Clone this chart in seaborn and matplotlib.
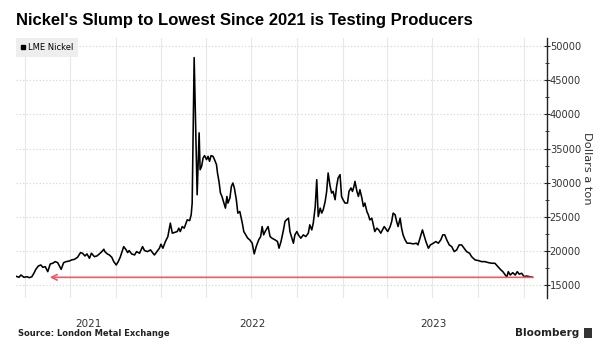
import matplotlib
matplotlib.use('Agg')
import matplotlib.pyplot as plt
import matplotlib.dates as mdates
from matplotlib.lines import Line2D
from matplotlib.ticker import MultipleLocator, FixedLocator, FixedFormatter, NullFormatter
import pandas as pd
import seaborn as sns

# LME nickel, dollars a ton
dates = [
    '2021-03-13', '2021-03-20', '2021-03-24', '2021-03-30', '2021-04-05', '2021-04-10', '2021-04-15',
    '2021-04-19', '2021-04-23', '2021-04-28', '2021-05-03', '2021-05-07', '2021-05-12', '2021-05-17',
    '2021-05-22', '2021-05-27', '2021-06-01', '2021-06-06', '2021-06-13', '2021-06-18', '2021-06-23',
    '2021-06-30', '2021-07-04', '2021-07-10', '2021-07-16', '2021-07-22', '2021-07-26', '2021-07-31',
    '2021-08-04', '2021-08-09', '2021-08-13', '2021-08-19', '2021-08-24', '2021-08-29', '2021-09-03',
    '2021-09-07', '2021-09-09', '2021-09-14', '2021-09-18', '2021-09-23', '2021-09-27', '2021-10-02',
    '2021-10-06', '2021-10-10', '2021-10-13', '2021-10-17', '2021-10-22', '2021-10-25', '2021-10-28',
    '2021-11-02', '2021-11-08', '2021-11-12', '2021-11-18', '2021-11-21', '2021-11-24', '2021-11-28',
    '2021-12-04', '2021-12-10', '2021-12-15', '2021-12-18', '2021-12-23', '2021-12-28', '2021-12-31',
    '2022-01-04', '2022-01-09', '2022-01-14', '2022-01-19', '2022-01-23', '2022-01-27', '2022-02-02',
    '2022-02-05', '2022-02-08', '2022-02-12', '2022-02-16', '2022-02-22', '2022-02-27', '2022-03-02',
    '2022-03-04', '2022-03-08', '2022-03-14', '2022-03-18', '2022-03-20', '2022-03-23', '2022-03-26',
    '2022-03-29', '2022-04-02', '2022-04-05', '2022-04-08', '2022-04-11', '2022-04-15', '2022-04-18',
    '2022-04-22', '2022-04-24', '2022-04-27', '2022-04-30', '2022-05-03', '2022-05-07', '2022-05-10',
    '2022-05-13', '2022-05-15', '2022-05-19', '2022-05-22', '2022-05-25', '2022-05-28', '2022-06-01',
    '2022-06-04', '2022-06-08', '2022-06-13', '2022-06-16', '2022-06-20', '2022-06-24', '2022-06-28',
    '2022-07-03', '2022-07-07', '2022-07-11', '2022-07-16', '2022-07-20', '2022-07-23', '2022-07-26',
    '2022-07-29', '2022-08-04', '2022-08-08', '2022-08-12', '2022-08-18', '2022-08-23', '2022-08-26',
    '2022-08-30', '2022-09-04', '2022-09-07', '2022-09-10', '2022-09-14', '2022-09-17', '2022-09-21',
    '2022-09-24', '2022-09-27', '2022-10-01', '2022-10-04', '2022-10-09', '2022-10-14', '2022-10-19',
    '2022-10-24', '2022-10-27', '2022-10-31', '2022-11-03', '2022-11-07', '2022-11-10', '2022-11-13',
    '2022-11-17', '2022-11-20', '2022-11-23', '2022-11-27', '2022-11-30', '2022-12-03', '2022-12-07',
    '2022-12-10', '2022-12-13', '2022-12-17', '2022-12-20', '2022-12-23', '2022-12-27', '2022-12-30',
    '2023-01-02', '2023-01-06', '2023-01-11', '2023-01-14', '2023-01-18', '2023-01-21', '2023-01-24',
    '2023-01-26', '2023-01-30', '2023-02-02', '2023-02-05', '2023-02-09', '2023-02-12', '2023-02-15',
    '2023-02-19', '2023-02-22', '2023-02-25', '2023-03-01', '2023-03-04', '2023-03-07', '2023-03-11',
    '2023-03-15', '2023-03-19', '2023-03-26', '2023-04-02', '2023-04-07', '2023-04-10', '2023-04-13',
    '2023-04-17', '2023-04-20', '2023-04-23', '2023-04-27', '2023-04-30', '2023-05-03', '2023-05-07',
    '2023-05-11', '2023-05-17', '2023-05-23', '2023-05-30', '2023-06-02', '2023-06-06', '2023-06-11',
    '2023-06-14', '2023-06-18', '2023-06-23', '2023-06-27', '2023-07-03', '2023-07-08', '2023-07-13',
    '2023-07-18', '2023-07-22', '2023-07-26', '2023-07-30', '2023-08-04', '2023-08-09', '2023-08-14',
    '2023-08-19', '2023-08-24', '2023-08-29', '2023-09-03', '2023-09-08', '2023-09-14', '2023-09-18',
    '2023-09-25', '2023-10-02', '2023-10-08', '2023-10-15', '2023-10-22', '2023-10-29', '2023-11-04',
    '2023-11-09', '2023-11-15', '2023-11-20', '2023-11-25', '2023-11-28', '2023-12-01', '2023-12-05',
    '2023-12-10', '2023-12-15', '2023-12-19', '2023-12-23', '2023-12-28', '2024-01-02', '2024-01-07',
    '2024-01-13', '2024-01-19',
]
prices = [
    16320, 16130, 16470, 16130, 16220, 16080, 16220,
    16720, 17300, 17790, 17940, 17600, 17690, 16960,
    18090, 18190, 18430, 18280, 17300, 18280, 18430,
    18530, 18680, 18770, 19070, 19750, 19660, 19260,
    19560, 18920, 19660, 19160, 19260, 19560, 19900,
    20250, 19900, 19560, 19410, 19070, 18430, 17940,
    18430, 19070, 19750, 20630, 20150, 19750, 20050,
    19560, 19410, 19900, 19660, 20150, 20630, 20050,
    19900, 20150, 19660, 19410, 19900, 20400, 20980,
    20400, 21370, 22100, 24070, 22600, 22690, 22840,
    23330, 22840, 23570, 23330, 24550, 24450, 25290,
    27010, 48330, 28230, 37300, 31900, 32390, 33620,
    33960, 33380, 33860, 33130, 33960, 33860, 33380,
    32640, 31420, 30190, 28480, 27980, 27010, 26270,
    27980, 27010, 27740, 29450, 29950, 29220, 27500,
    25540, 25780, 24070, 22840, 22350, 21860, 21620,
    21130, 19560, 20630, 21620, 22100, 23570, 22350,
    22840, 23570, 22100, 21860, 21620, 21370, 20400,
    21370, 23080, 24310, 24550, 24800, 22840, 21860,
    21130, 22350, 22840, 22350, 21860, 22350, 22100,
    22600, 23820, 23080, 24070, 26510, 30440, 25040,
    26270, 25540, 26020, 27250, 28720, 31420, 29450,
    28480, 28720, 27500, 29450, 30680, 31170, 27980,
    27500, 27010, 27010, 28720, 29220, 28720, 29450,
    30190, 28720, 27980, 28970, 27740, 26510, 27010,
    25780, 25290, 24550, 24800, 23820, 22840, 23330,
    23080, 22600, 23570, 22840, 23570, 24310, 25540,
    25290, 24310, 23570, 24800, 23330, 22350, 21620,
    21130, 21130, 21030, 21130, 20880, 21860, 23080,
    22350, 21370, 20400, 20880, 21130, 21370, 21130,
    21620, 22350, 22350, 21620, 20880, 20630, 19900,
    20150, 20880, 20880, 20400, 19900, 19660, 19160,
    18680, 18580, 18430, 18430, 18280, 18190, 18190,
    17790, 17300, 16960, 16470, 16130, 16960, 16470,
    16810, 16470, 16960, 16600, 16720, 16220, 16320,
    16220, 16130,
]

price_ticks = [15000, 20000, 25000, 30000, 35000, 40000, 45000, 50000]
year_labels = ['2021', '2022', '2023']
x_start, x_end = '2021-03-14', '2024-02-17'
arrow_from = '2021-05-21'  # where the red arrow points back to

df = pd.DataFrame({'date': pd.to_datetime(dates), 'price': prices})

fig = plt.figure(figsize=(6.06, 3.56), dpi=100)
ax = fig.add_axes([16 / 606, 1 - 298 / 356, 531 / 606, 260 / 356])

sns.lineplot(data=df, x='date', y='price', ax=ax, color='black', linewidth=1.15, legend=False)

# red arrow: today's level back to the last time it was this low
last = df.iloc[-1]
ax.annotate('', xy=(pd.Timestamp(arrow_from), last['price']), xytext=(last['date'], last['price']),
            arrowprops=dict(arrowstyle='->', color='#ec5a6c', lw=1.2, shrinkA=0, shrinkB=0,
                            mutation_scale=10))

ax.set_xlim(pd.Timestamp(x_start), pd.Timestamp(x_end))
ax.set_ylim(13100, 51200)

# axes styling
for s in ['top', 'left', 'bottom']:
    ax.spines[s].set_visible(False)
ax.spines['right'].set_color('#222222')
ax.spines['right'].set_linewidth(1.0)

ax.yaxis.tick_right()
ax.yaxis.set_label_position('right')
ax.set_yticks(price_ticks)
ax.set_yticklabels([str(t) for t in price_ticks])
ax.yaxis.set_minor_locator(MultipleLocator(2500))
ax.tick_params(axis='y', which='major', direction='inout', length=4, width=0.8, pad=0,
               labelsize=7.1, labelcolor='#333333', color='#222222')
ax.tick_params(axis='y', which='minor', direction='inout', length=2.5, width=0.6, color='#222222')
ax.set_ylabel('Dollars a ton', rotation=270, fontsize=8.2, color='#333333', labelpad=8)

# quarterly gridlines, year labels centred in the visible part of each year
quarters = pd.date_range('2021-04-01', '2024-01-01', freq='QS')
ax.xaxis.set_major_locator(FixedLocator(mdates.date2num(quarters)))
ax.xaxis.set_major_formatter(NullFormatter())
lo, hi = pd.Timestamp(x_start), pd.Timestamp(x_end)
centres = []
for y in year_labels:
    a = max(pd.Timestamp(y + '-01-01'), lo)
    b = min(pd.Timestamp(str(int(y) + 1) + '-01-01'), hi)
    centres.append(a + (b - a) / 2)
ax.xaxis.set_minor_locator(FixedLocator(mdates.date2num(centres)))
ax.xaxis.set_minor_formatter(FixedFormatter(year_labels))
ax.tick_params(axis='x', which='both', length=0)
ax.tick_params(axis='x', which='minor', pad=15, labelsize=7.5, labelcolor='#333333')
ax.set_xlabel('')

ax.grid(axis='x', which='major', color='#e8e8e8', linewidth=0.8)
ax.grid(axis='y', which='major', color='#d8d8d8', linestyle=':', linewidth=0.9)
ax.set_axisbelow(True)

handle = Line2D([], [], marker='s', color='black', linestyle='none', markersize=3.5)
leg = ax.legend([handle], ['LME Nickel'], loc='upper left', bbox_to_anchor=(0, 1), borderaxespad=0,
                frameon=True, fancybox=False, facecolor='#eeeeee', edgecolor='none', fontsize=6,
                handlelength=0.5, handletextpad=0.3, borderpad=0.6)
leg.get_frame().set_alpha(1)

fig.text(16 / 606, 1 - 21 / 356, "Nickel's Slump to Lowest Since 2021 is Testing Producers",
         fontsize=12, fontweight='bold', family='Liberation Sans', va='center', ha='left', color='black')
fig.text(18 / 606, 1 - 333 / 356, 'Source: London Metal Exchange', fontsize=6, fontweight='bold',
         va='center', ha='left', color='#222222')
fig.text(579 / 606, 1 - 333 / 356, 'Bloomberg', fontsize=7.5, fontweight='bold', va='center', ha='right',
         color='#222222')
fig.text(588 / 606, 1 - 333 / 356, ' ', fontsize=5, va='center', ha='center',
         bbox=dict(boxstyle='square,pad=0.35', fc='#333333', ec='none'))

fig.savefig('out.png', dpi=100, facecolor='white')
